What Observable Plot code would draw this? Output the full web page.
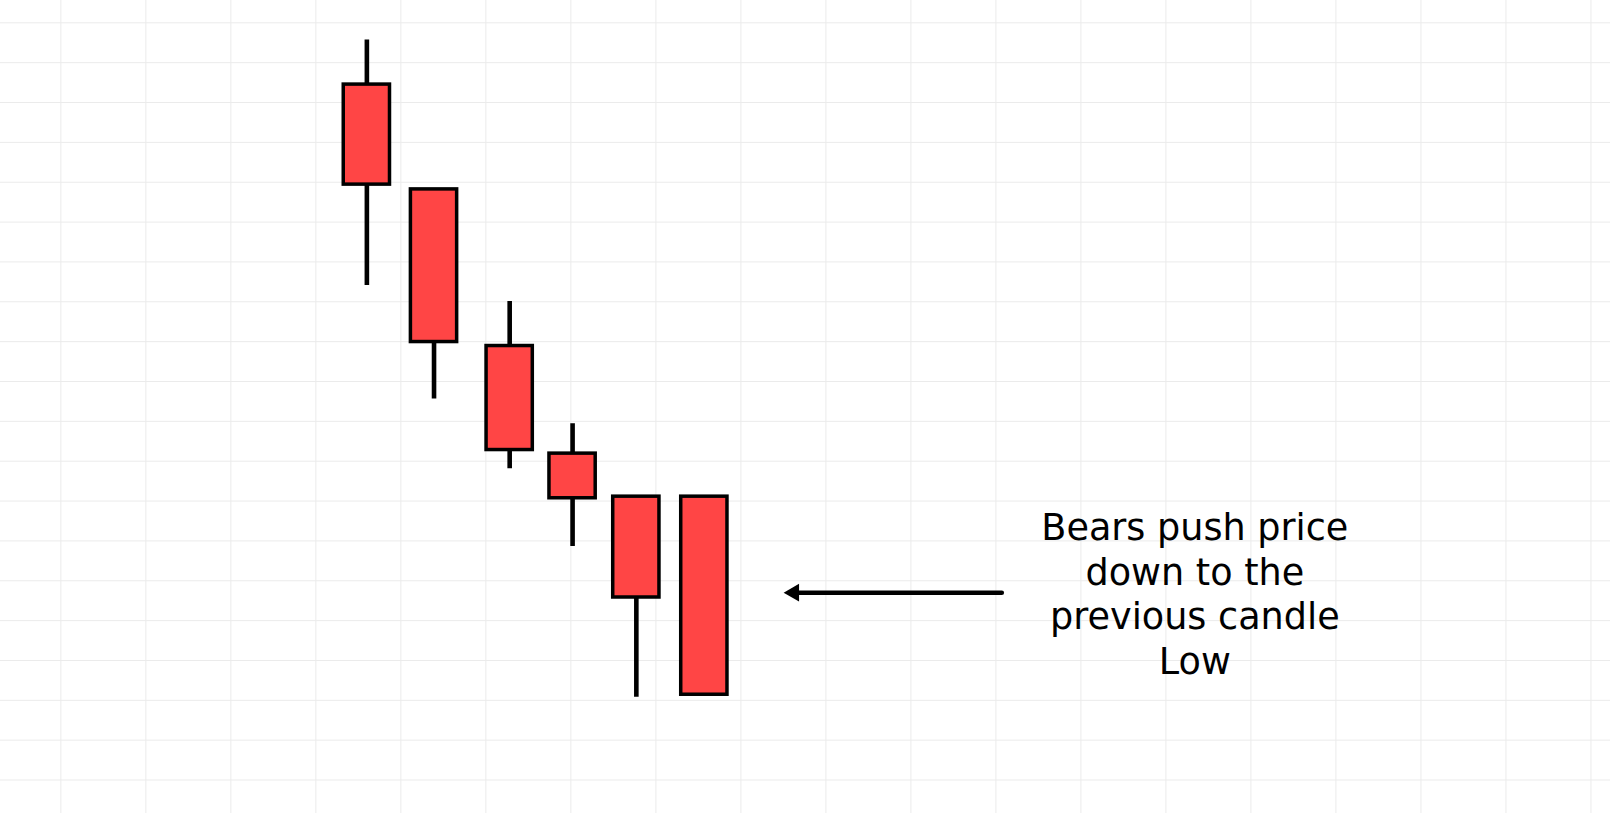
<!DOCTYPE html>
<html>
<head>
<meta charset="utf-8">
<script src="https://cdn.jsdelivr.net/npm/d3@7"></script>
<script src="https://cdn.jsdelivr.net/npm/@observablehq/plot@0.6"></script>
<style>
  html, body { margin: 0; padding: 0; background: #ffffff; overflow: hidden; }
  #chart svg { display: block; }
</style>
</head>
<body>
<div id="chart"></div>
<script>
// ---- data ----
const candleTime  = [3.60, 4.39, 5.28, 6.02, 6.77, 7.57];
const candleOpen  = [184.5, 158.2, 118.9, 91.9, 81.1, 81.1];
const candleHigh  = [195.7, 158.2, 130.1, 99.4, 81.1, 81.1];
const candleLow   = [134.1, 105.6, 88.1, 68.6, 30.8, 31.4];
const candleClose = [159.4, 119.9, 92.8, 80.7, 55.8, 31.4];

const gridXTicks = d3.range(0, 19, 1);      // vertical grid lines
const gridYTicks = d3.range(10, 201, 10);   // horizontal grid lines

const arrowFrom = [11.075, 57];   // [x, price]
const arrowTo   = [8.506, 57];
const noteLines = ["Bears push price", "down to the", "previous candle", "Low"];
const notePos   = [13.34, 57.0];

// ---- build tables ----
const candles = candleTime.map((t, i) => ({
  t, open: candleOpen[i], high: candleHigh[i], low: candleLow[i], close: candleClose[i]
}));
const arrow = [{x1: arrowFrom[0], x2: arrowTo[0], y: arrowFrom[1]}];
const note = [{x: notePos[0], y: notePos[1], text: noteLines.join("\n")}];

const halfBody = 0.272;
const gridColor = "#ebebeb";

const chart = Plot.plot({
  width: 1610,
  height: 813,
  margin: 0,
  x: {domain: [-0.71, 18.23], axis: null},
  y: {domain: [1.6, 205.6], axis: null},
  style: {background: "#ffffff"},
  marks: [
    Plot.ruleX(gridXTicks, {x: d => d, stroke: gridColor, strokeWidth: 1}),
    Plot.ruleY(gridYTicks, {y: d => d, stroke: gridColor, strokeWidth: 1}),
    Plot.ruleX(candles, {x: "t", y1: "low", y2: "high", stroke: "#000", strokeWidth: 4.6}),
    Plot.rect(candles, {
      x1: d => d.t - halfBody, x2: d => d.t + halfBody,
      y1: "open", y2: "close",
      fill: "#ff4545", stroke: "#000", strokeWidth: 3.5
    }),
    Plot.ruleY(arrow, {
      y: "y", x1: "x2", x2: "x1", insetLeft: 10,
      stroke: "#000", strokeWidth: 4.6, strokeLinecap: "round"
    }),
    Plot.dot(arrow, {
      x: "x2", y: "y", symbol: "triangle", r: 6.6, rotate: -90, dx: 10,
      fill: "#000", stroke: "none"
    }),
    Plot.text(note, {
      x: "x", y: "y", text: "text",
      fontSize: 36.6, fontFamily: "DejaVu Sans", lineHeight: 1.22,
      textAnchor: "middle", lineAnchor: "middle", fill: "#000"
    })
  ]
});
document.getElementById("chart").appendChild(chart);
</script>
</body>
</html>
